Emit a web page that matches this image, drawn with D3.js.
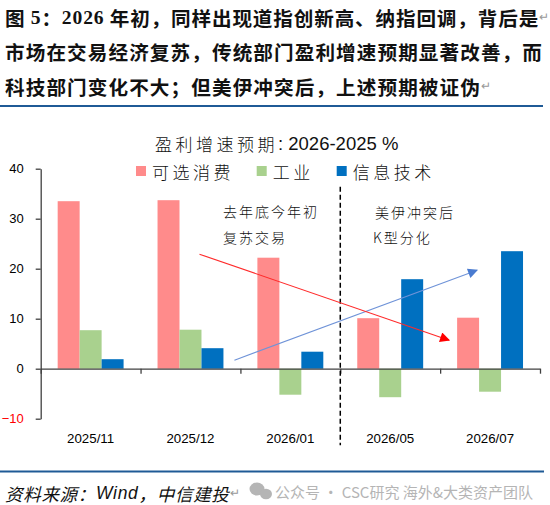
<!DOCTYPE html>
<html>
<head>
<meta charset="utf-8">
<script src="https://cdn.jsdelivr.net/npm/d3@7"></script>
<style>
  body { margin: 0; background: #fff; }
  svg { display: block; }
</style>
</head>
<body>
<script>
const categories = ["2025/11", "2025/12", "2026/01", "2026/05", "2026/07"];
const seriesNames = ["可选消费", "工业", "信息技术"];
const consumer = [33.5, 33.7, 22.2, 10.1, 10.2];
const industry = [7.7, 7.8, -5.2, -5.7, -4.6];
const tech = [1.9, 4.1, 3.4, 17.9, 23.5];
const yTicks = [-10, 0, 10, 20, 30, 40];
// annotation arrows, [category position, value]
const redArrow = [[1.59, 22.9], [4.09, 5.7]];
const blueArrow = [[1.94, 1.7], [4.37, 19.7]];
const dividerAt = 3;

const width = 550;
const height = 505;
const colors = ["#ff8b8b", "#a9d18e", "#0070c0"];
const cjk = "'Noto Sans CJK SC', sans-serif";
const latin = "'Liberation Sans', Arial, sans-serif";
const serif = "'Liberation Serif', 'Times New Roman', serif";

const svg = d3
  .select("body")
  .append("svg")
  .attr("width", width)
  .attr("height", height);

// ---- figure title ----
const titleLines = [
  [
    ["图 ", cjk], ["5", serif], ["：", cjk], ["2026", serif],
    [" 年初，同样出现道指创新高、纳指回调，背后是", cjk],
  ],
  [["市场在交易经济复苏，传统部门盈利增速预期显著改善，而", cjk]],
  [["科技部门变化不大；但美伊冲突后，上述预期被证伪", cjk]],
];
const titleY = [17, 51, 86];
const titleSpacing = [0.85, 1.1, 1.1];
const titleMark = [true, false, true];

titleLines.forEach((parts, i) => {
  const t = svg
    .append("text")
    .attr("x", 5)
    .attr("y", titleY[i])
    .attr("dominant-baseline", "central")
    .style("font-size", "19.6px")
    .style("font-weight", "bold")
    .style("letter-spacing", `${titleSpacing[i]}px`)
    .style("fill", "#111");
  parts.forEach(([s, f]) => {
    t.append("tspan").style("font-family", f).text(s);
  });
  if (titleMark[i]) {
    t.append("tspan")
      .style("font-family", latin)
      .style("font-weight", "normal")
      .style("font-size", "12px")
      .style("letter-spacing", "0px")
      .style("fill", "#999")
      .text("↵");
  }
});

svg
  .append("line")
  .attr("x1", 0)
  .attr("x2", 543)
  .attr("y1", 106)
  .attr("y2", 106)
  .attr("stroke", "#1f5a96")
  .attr("stroke-width", 2);

// ---- scales ----
const x0 = d3
  .scaleBand()
  .domain(categories)
  .range([40.7, 540])
  .paddingInner(0.34)
  .paddingOuter(0.17);

const x1 = d3
  .scaleBand()
  .domain(seriesNames)
  .range([0, x0.bandwidth()]);

const xPos = d3.scaleLinear().domain([0, categories.length]).range([40.7, 540]);

const y = d3.scaleLinear().domain([-10, 40]).range([418.7, 168.7]);

// ---- bars ----
const table = categories.map((c, i) => ({
  cat: c,
  vals: [consumer[i], industry[i], tech[i]],
}));

const groups = svg
  .selectAll(".grp")
  .data(table)
  .enter()
  .append("g")
  .attr("class", "grp")
  .attr("transform", (d) => `translate(${x0(d.cat)},0)`);

groups
  .selectAll("rect")
  .data((d) => d.vals.map((v, j) => ({ v, j })))
  .enter()
  .append("rect")
  .attr("x", (d) => x1(seriesNames[d.j]))
  .attr("width", x1.bandwidth())
  .attr("y", (d) => y(Math.max(0, d.v)))
  .attr("height", (d) => Math.abs(y(d.v) - y(0)))
  .style("fill", (d) => colors[d.j]);

// ---- axes ----
const yAxis = d3
  .axisLeft(y)
  .tickValues(yTicks)
  .tickSize(5)
  .tickSizeOuter(0)
  .tickPadding(12);

const yG = svg.append("g").attr("transform", "translate(40.7,0)").call(yAxis);
yG.select(".domain").attr("stroke", "#404040").attr("stroke-width", 1.3);
yG.selectAll(".tick line").attr("stroke", "#404040").attr("stroke-width", 1.3);
yG.selectAll(".tick text")
  .style("font-family", latin)
  .style("font-size", "13px")
  .style("fill", (d) => (d < 0 ? "#ff0000" : "#000"));

const xAxis = d3
  .axisBottom(xPos)
  .tickValues(d3.range(categories.length + 1))
  .tickFormat("")
  .tickSize(5)
  .tickSizeOuter(0);

const xG = svg.append("g").attr("transform", `translate(0,${y(0)})`).call(xAxis);
xG.select(".domain").attr("stroke", "#404040").attr("stroke-width", 1.3);
xG.selectAll(".tick line").attr("stroke", "#404040").attr("stroke-width", 1.3);

svg
  .selectAll(".cat-label")
  .data(categories)
  .enter()
  .append("text")
  .attr("class", "cat-label")
  .attr("x", (d) => x0(d) + x0.bandwidth() / 2)
  .attr("y", 438.5)
  .attr("text-anchor", "middle")
  .attr("dominant-baseline", "central")
  .style("font-family", latin)
  .style("font-size", "13.3px")
  .style("fill", "#000")
  .text((d) => d);

// divider
svg
  .append("line")
  .attr("x1", xPos(dividerAt))
  .attr("x2", xPos(dividerAt))
  .attr("y1", y(36.4))
  .attr("y2", y(-15.3))
  .attr("stroke", "#000")
  .attr("stroke-width", 1.5)
  .attr("stroke-dasharray", "5,3");

// ---- arrows ----
const defs = svg.append("defs");
[
  ["arr-red", "#ff0000"],
  ["arr-blue", "#4a7bd0"],
].forEach(([id, c]) => {
  defs
    .append("marker")
    .attr("id", id)
    .attr("viewBox", "0 0 10 10")
    .attr("refX", 9)
    .attr("refY", 5)
    .attr("markerWidth", 12)
    .attr("markerHeight", 10)
    .attr("markerUnits", "userSpaceOnUse")
    .attr("orient", "auto")
    .append("path")
    .attr("d", "M0,0 L10,5 L0,10 Z")
    .attr("fill", c);
});

const arrowLine = d3
  .line()
  .x((d) => xPos(d[0]))
  .y((d) => y(d[1]));

svg
  .append("path")
  .attr("d", arrowLine(blueArrow))
  .attr("stroke", "#6f93d8")
  .attr("stroke-width", 1.1)
  .attr("fill", "none")
  .attr("marker-end", "url(#arr-blue)");

svg
  .append("path")
  .attr("d", arrowLine(redArrow))
  .attr("stroke", "#ff2a2a")
  .attr("stroke-width", 1.1)
  .attr("fill", "none")
  .attr("marker-end", "url(#arr-red)");

// ---- chart title + legend ----
const ct = svg
  .append("text")
  .attr("x", 155)
  .attr("y", 143)
  .attr("dominant-baseline", "central")
  .style("fill", "#111");
ct.append("tspan")
  .style("font-family", cjk)
  .style("font-size", "17px")
  .style("font-weight", 300)
  .style("letter-spacing", "3.5px")
  .text("盈利增速预期");
ct.append("tspan")
  .style("font-family", latin)
  .style("font-size", "18.5px")
  .text(": 2026-2025 %");

const legendX = [136, 256.7, 336.7];
const legend = svg
  .selectAll(".legend")
  .data(seriesNames)
  .enter()
  .append("g")
  .attr("class", "legend")
  .attr("transform", (d, i) => `translate(${legendX[i]},166)`);

legend
  .append("rect")
  .attr("width", 10)
  .attr("height", 10)
  .style("fill", (d, i) => colors[i]);

legend
  .append("text")
  .attr("x", 16)
  .attr("y", 5.5)
  .attr("dominant-baseline", "central")
  .style("font-family", cjk)
  .style("font-size", "17px")
  .style("font-weight", 300)
  .style("letter-spacing", "3.5px")
  .style("fill", "#111")
  .text((d) => d);

// ---- annotations ----
const notes = [
  ["去年底今年初", 223, 211],
  ["复苏交易", 223, 237],
  ["美伊冲突后", 375, 212],
  ["K型分化", 373, 237],
];
svg
  .selectAll(".note")
  .data(notes)
  .enter()
  .append("text")
  .attr("class", "note")
  .attr("x", (d) => d[1])
  .attr("y", (d) => d[2])
  .attr("dominant-baseline", "central")
  .style("font-family", cjk)
  .style("font-size", "14px")
  .style("font-weight", 300)
  .style("letter-spacing", "2px")
  .style("fill", "#111")
  .text((d) => d[0]);

// ---- footer ----
svg
  .append("line")
  .attr("x1", 0)
  .attr("x2", 544)
  .attr("y1", 471.5)
  .attr("y2", 471.5)
  .attr("stroke", "#1f5a96")
  .attr("stroke-width", 2);

const src = svg
  .append("text")
  .attr("x", 5)
  .attr("y", 493)
  .attr("dominant-baseline", "central")
  .style("font-size", "17.5px")
  .style("font-style", "italic")
  .style("letter-spacing", "0.7px")
  .style("fill", "#111");
src.append("tspan").style("font-family", cjk).text("资料来源：");
src.append("tspan").style("font-family", latin).text("Wind");
src.append("tspan").style("font-family", cjk).text("，中信建投");
src.append("tspan")
  .style("font-family", latin)
  .style("font-style", "normal")
  .style("font-size", "12px")
  .style("fill", "#999")
  .text("↵");

// watermark
const wm = svg.append("g").style("fill", "#b5b5b5");
wm.append("ellipse").attr("cx", 257).attr("cy", 489).attr("rx", 7.5).attr("ry", 6.5);
wm.append("ellipse").attr("cx", 266).attr("cy", 494).attr("rx", 6).attr("ry", 5.2);
wm.append("text")
  .attr("x", 275)
  .attr("y", 491)
  .attr("dominant-baseline", "central")
  .style("font-family", cjk)
  .style("font-size", "15px")
  .text("公众号 · CSC研究 海外&大类资产团队");
</script>
</body>
</html>
